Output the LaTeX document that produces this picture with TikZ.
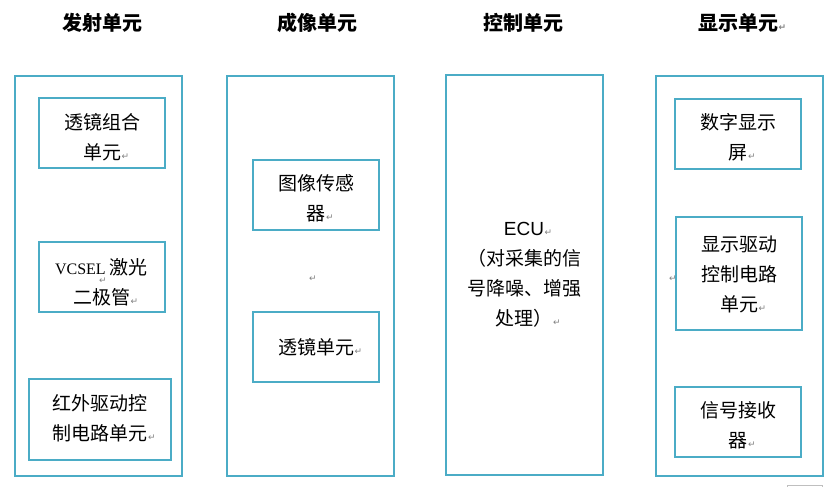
\documentclass[tikz,border=0pt]{standalone}
\usepackage{fontspec}
\setmainfont{Noto Sans CJK SC}
\newfontfamily\cjk{Noto Sans CJK SC}
\newfontfamily\vcfont{Liberation Serif}
\newfontfamily\ecufont{Liberation Sans}
\newfontfamily\dejavu{DejaVu Sans}
\definecolor{boxc}{HTML}{4BACC6}
\newcommand\pmglyph{{\dejavu\fontsize{9pt}{9pt}\selectfont\textcolor{gray}{↵}}}
\newcommand\parmark{\rlap{\kern0.5pt\pmglyph}}
\begin{document}
\begin{tikzpicture}[x=1pt,y=-1pt,
  box/.style={draw=boxc, line width=2.2pt, inner sep=0pt},
  body/.style={font=\cjk\fontsize{19pt}{30pt}\selectfont, align=center, inner sep=0pt},
  title/.style={font=\cjk\bfseries\fontsize{20pt}{22pt}\selectfont, inner sep=0pt},
  pmk/.style={inner sep=0pt}]
\useasboundingbox (0,0) rectangle (838,487);
% titles
\node[title] (h1) at (102,23) {发射单元};
\node[title] (h2) at (317,23) {成像单元};
\node[title] (h3) at (523,23) {控制单元};
\node[title] (h4) at (738,23) {显示单元\parmark};
% outer boxes
\node[box, minimum width=167pt, minimum height=400pt] (emit) at (98.5,276) {};
\node[box, minimum width=167pt, minimum height=400pt] (img) at (310.5,276) {};
\node[box, minimum width=157pt, minimum height=400pt] (ctl) at (524.5,275) {};
\node[box, minimum width=167pt, minimum height=400pt] (disp) at (739.5,276) {};
% inner boxes
\node[box, minimum width=126pt, minimum height=70pt] (e1) at (102,133) {};
\node[box, minimum width=126pt, minimum height=70pt] (e2) at (102,277) {};
\node[box, minimum width=142pt, minimum height=81pt] (e3) at (100,419.5) {};
\node[box, minimum width=126pt, minimum height=70pt] (i1) at (316,195) {};
\node[box, minimum width=126pt, minimum height=70pt] (i2) at (316,347) {};
\node[box, minimum width=126pt, minimum height=70pt] (d1) at (738,134) {};
\node[box, minimum width=126pt, minimum height=113pt] (d2) at (739,273.5) {};
\node[box, minimum width=126pt, minimum height=70pt] (d3) at (738,422) {};
% texts
\node[body] (t1) at (102,137.5) {透镜组合\\单元\parmark};
\node[body] (t2) at (101.5,282) {{\vcfont\fontsize{16pt}{30pt}\selectfont VCSEL} 激光\\二极管\parmark};
\node[pmk] (p1) at (103,280.5) {\pmglyph};
\node[body] (t3) at (100,418) {红外驱动控\\制电路单元\parmark};
\node[body] (t4) at (316,198) {图像传感\\器\parmark};
\node[pmk] (p2) at (313,279) {\pmglyph};
\node[body] (t5) at (316,347) {透镜单元\parmark};
\node[body] (t6) at (524,275) {{\ecufont ECU}\parmark\\（对采集的信\\号降噪、增强\\处理）\parmark};
\node[body] (t7) at (738,137) {数字显示\\屏\parmark};
\node[body] (t8) at (739,274) {显示驱动\\控制电路\\单元\parmark};
\node[pmk] (p3) at (673,279) {\pmglyph};
\node[body] (t9) at (738,425) {信号接收\\器\parmark};
% fragment at bottom right
\draw[gray!50, line width=0.8pt] (787,490) -- (787,485) -- (822,485) -- (822,490);
\end{tikzpicture}
\end{document}
